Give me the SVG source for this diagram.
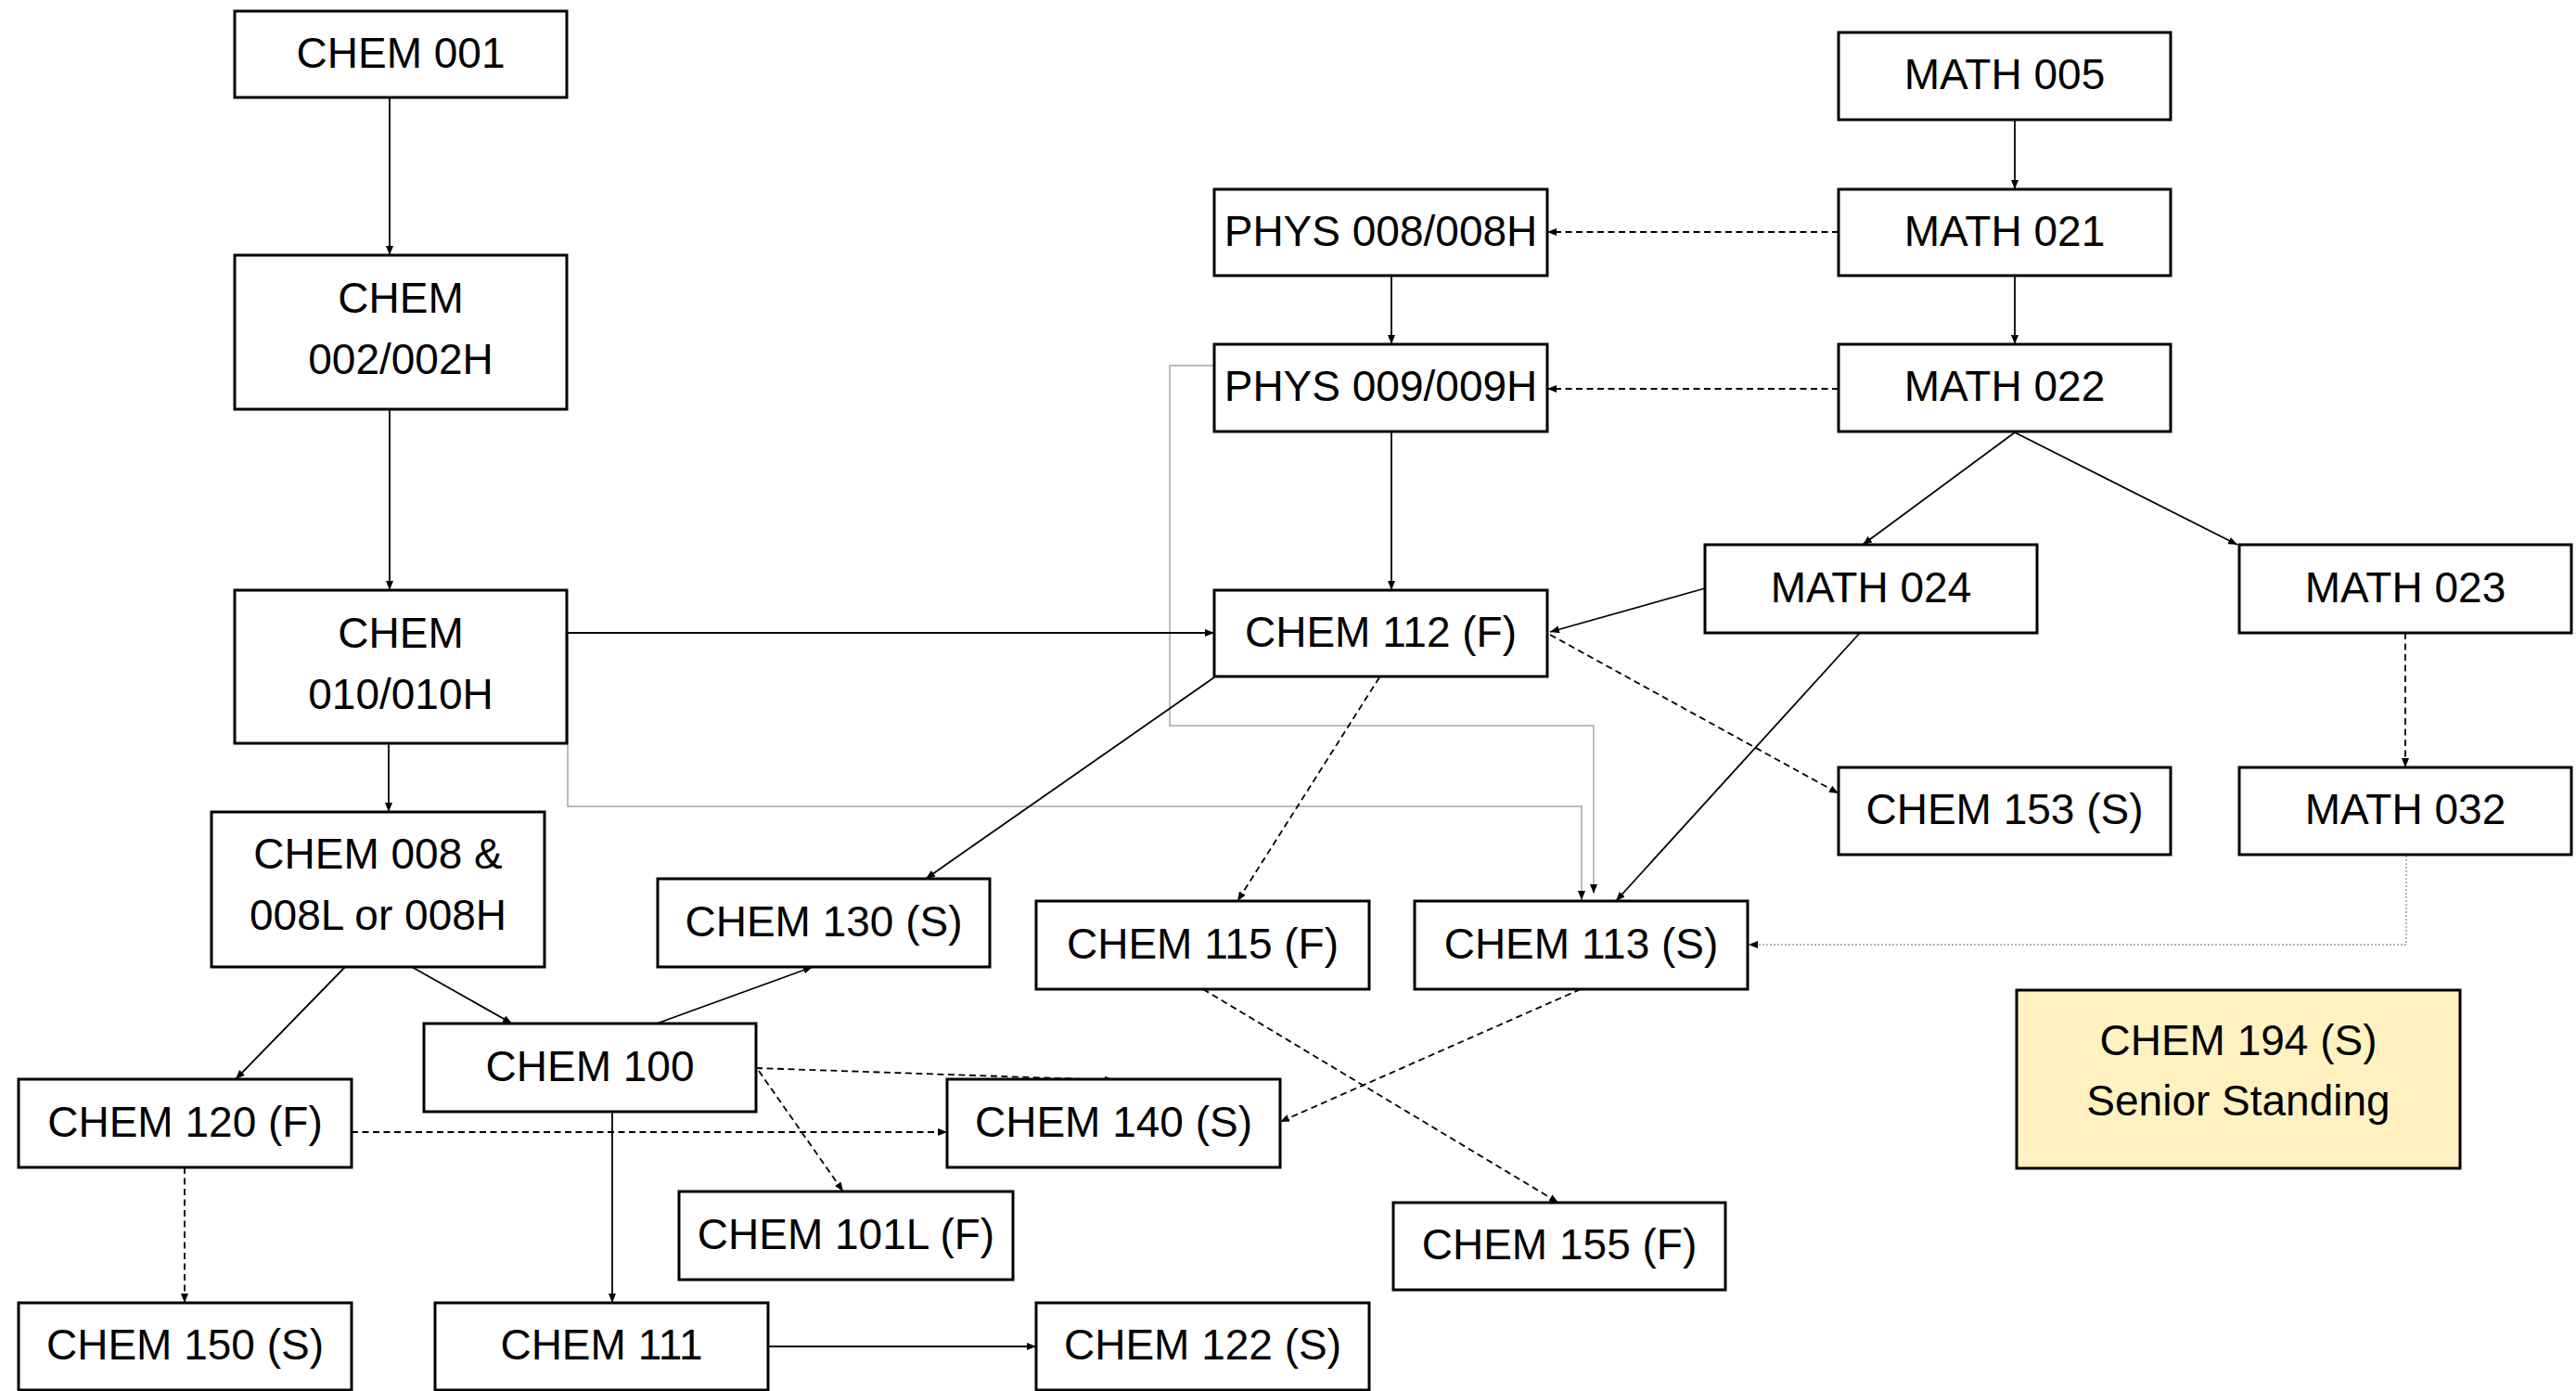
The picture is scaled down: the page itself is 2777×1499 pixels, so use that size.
<svg xmlns="http://www.w3.org/2000/svg" width="2777" height="1499" viewBox="0 0 2777 1499">
<style>
.box{fill:#fff;stroke:#000;stroke-width:3}
.hl{fill:#FFF2C0;stroke:#000;stroke-width:3}
.t{font-family:"Liberation Sans",Arial,sans-serif;font-size:46px;fill:#000;text-anchor:middle}
.c{fill:none;stroke:#000;stroke-width:1.8}
.d{fill:none;stroke:#000;stroke-width:1.8;stroke-dasharray:7 4.5}
.g{fill:none;stroke:#a6a6a6;stroke-width:1.5}
.dot{fill:none;stroke:#9a9a9a;stroke-width:1.5;stroke-dasharray:2 2}
</style>
<defs>
<marker id="ah" markerUnits="userSpaceOnUse" markerWidth="10" markerHeight="8" refX="10" refY="4" orient="auto" viewBox="0 0 10 8"><path d="M0,0 L10,4 L0,8 z" fill="#000"/></marker>
</defs>
<rect width="2777" height="1499" fill="#fff"/>
<g id="connectors">
<path class="c" d="M420,105 V275" marker-end="url(#ah)"/>
<path class="c" d="M420,441 V636" marker-end="url(#ah)"/>
<path class="g" d="M612,683 V869 H1705 V970" marker-end="url(#ah)"/>
<path class="g" d="M1309,394 H1261 V782 H1718 V963" marker-end="url(#ah)"/>
<path class="c" d="M611,682 H1309" marker-end="url(#ah)"/>
<path class="c" d="M419,801 V875" marker-end="url(#ah)"/>
<path class="c" d="M372,1042 L254,1163" marker-end="url(#ah)"/>
<path class="c" d="M444,1042 L552,1103" marker-end="url(#ah)"/>
<path class="c" d="M708,1103 L876,1042" marker-end="url(#ah)"/>
<path class="c" d="M1309,730 L998,947" marker-end="url(#ah)"/>
<path class="c" d="M660,1198 V1404" marker-end="url(#ah)"/>
<path class="c" d="M828,1451 H1117" marker-end="url(#ah)"/>
<path class="c" d="M2172,129 V204" marker-end="url(#ah)"/>
<path class="c" d="M2172,297 V371" marker-end="url(#ah)"/>
<path class="c" d="M1500,297 V371" marker-end="url(#ah)"/>
<path class="c" d="M1500,465 V636" marker-end="url(#ah)"/>
<path class="c" d="M2172,466 L2008,587" marker-end="url(#ah)"/>
<path class="c" d="M2172,466 L2412,587" marker-end="url(#ah)"/>
<path class="c" d="M1838,634 L1671,681" marker-end="url(#ah)"/>
<path class="c" d="M2005,682 L1742,971" marker-end="url(#ah)"/>
<path class="d" d="M1982,250 H1668" marker-end="url(#ah)"/>
<path class="d" d="M1982,419 H1668" marker-end="url(#ah)"/>
<path class="d" d="M1671,684 L1982,855" marker-end="url(#ah)"/>
<path class="d" d="M2593,682 V827" marker-end="url(#ah)"/>
<path class="d" d="M1487,730 L1334,971" marker-end="url(#ah)"/>
<path class="d" d="M815,1151 L1201,1164" marker-end="url(#ah)"/>
<path class="d" d="M818,1154 L909,1284" marker-end="url(#ah)"/>
<path class="d" d="M379,1220 H1021" marker-end="url(#ah)"/>
<path class="d" d="M199,1258 V1404" marker-end="url(#ah)"/>
<path class="d" d="M1704,1066 L1380,1209" marker-end="url(#ah)"/>
<path class="d" d="M1297,1066 L1680,1296" marker-end="url(#ah)"/>
<path class="dot" d="M2594,922 V1018 H1885" marker-end="url(#ah)"/>
</g>
<g id="n-chem001"><rect class="box" x="253" y="12" width="358" height="93"/><text class="t" x="432" y="72.5">CHEM 001</text></g>
<g id="n-chem002"><rect class="box" x="253" y="275" width="358" height="166"/><text class="t" x="432" y="337">CHEM</text><text class="t" x="432" y="403">002/002H</text></g>
<g id="n-chem010"><rect class="box" x="253" y="636" width="358" height="165"/><text class="t" x="432" y="697.5">CHEM</text><text class="t" x="432" y="763.5">010/010H</text></g>
<g id="n-chem008"><rect class="box" x="228" y="875" width="359" height="167"/><text class="t" x="407.5" y="936">CHEM 008 &amp;</text><text class="t" x="407.5" y="1001.5">008L or 008H</text></g>
<g id="n-chem130"><rect class="box" x="709" y="947" width="358" height="95"/><text class="t" x="888" y="1008.5">CHEM 130 (S)</text></g>
<g id="n-chem115"><rect class="box" x="1117" y="971" width="359" height="95"/><text class="t" x="1296.5" y="1032.5">CHEM 115 (F)</text></g>
<g id="n-chem113"><rect class="box" x="1525" y="971" width="359" height="95"/><text class="t" x="1704.5" y="1032.5">CHEM 113 (S)</text></g>
<g id="n-chem100"><rect class="box" x="457" y="1103" width="358" height="95"/><text class="t" x="636" y="1164.5">CHEM 100</text></g>
<g id="n-chem120"><rect class="box" x="20" y="1163" width="359" height="95"/><text class="t" x="199.5" y="1224.5">CHEM 120 (F)</text></g>
<g id="n-chem140"><rect class="box" x="1021" y="1163" width="359" height="95"/><text class="t" x="1200.5" y="1224.5">CHEM 140 (S)</text></g>
<g id="n-chem101l"><rect class="box" x="732" y="1284" width="360" height="95"/><text class="t" x="912" y="1345.5">CHEM 101L (F)</text></g>
<g id="n-chem150"><rect class="box" x="20" y="1404" width="359" height="94"/><text class="t" x="199.5" y="1465">CHEM 150 (S)</text></g>
<g id="n-chem111"><rect class="box" x="469" y="1404" width="359" height="94"/><text class="t" x="648.5" y="1465">CHEM 111</text></g>
<g id="n-chem122"><rect class="box" x="1117" y="1404" width="359" height="94"/><text class="t" x="1296.5" y="1465">CHEM 122 (S)</text></g>
<g id="n-chem155"><rect class="box" x="1502" y="1296" width="358" height="94"/><text class="t" x="1681" y="1357">CHEM 155 (F)</text></g>
<g id="n-chem194"><rect class="hl" x="2174" y="1067" width="478" height="192"/><text class="t" x="2413" y="1137">CHEM 194 (S)</text><text class="t" x="2413" y="1202">Senior Standing</text></g>
<g id="n-math005"><rect class="box" x="1982" y="35" width="358" height="94"/><text class="t" x="2161" y="96">MATH 005</text></g>
<g id="n-math021"><rect class="box" x="1982" y="204" width="358" height="93"/><text class="t" x="2161" y="264.5">MATH 021</text></g>
<g id="n-phys008"><rect class="box" x="1309" y="204" width="359" height="93"/><text class="t" x="1488.5" y="264.5">PHYS 008/008H</text></g>
<g id="n-phys009"><rect class="box" x="1309" y="371" width="359" height="94"/><text class="t" x="1488.5" y="432">PHYS 009/009H</text></g>
<g id="n-math022"><rect class="box" x="1982" y="371" width="358" height="94"/><text class="t" x="2161" y="432">MATH 022</text></g>
<g id="n-math024"><rect class="box" x="1838" y="587" width="358" height="95"/><text class="t" x="2017" y="648.5">MATH 024</text></g>
<g id="n-math023"><rect class="box" x="2414" y="587" width="358" height="95"/><text class="t" x="2593" y="648.5">MATH 023</text></g>
<g id="n-chem112"><rect class="box" x="1309" y="636" width="359" height="93"/><text class="t" x="1488.5" y="696.5">CHEM 112 (F)</text></g>
<g id="n-chem153"><rect class="box" x="1982" y="827" width="358" height="94"/><text class="t" x="2161" y="888">CHEM 153 (S)</text></g>
<g id="n-math032"><rect class="box" x="2414" y="827" width="358" height="94"/><text class="t" x="2593" y="888">MATH 032</text></g>
</svg>
